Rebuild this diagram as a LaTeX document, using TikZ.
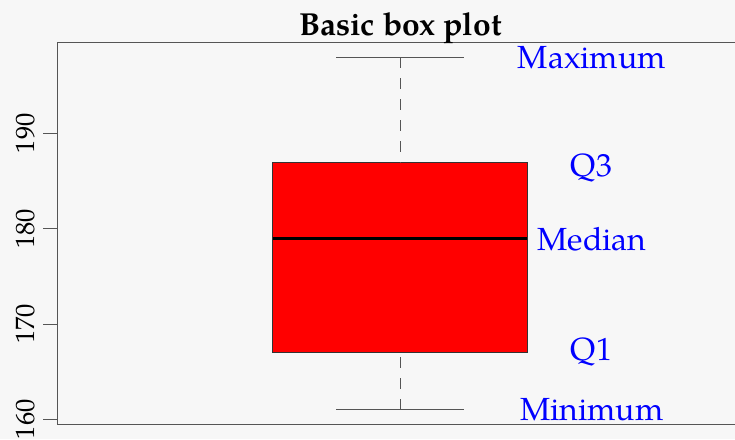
\documentclass[tikz,border=0pt]{standalone}
\usepackage{fontspec}
\setmainfont{TeX Gyre Pagella}
\definecolor{bg}{RGB}{247,247,247}
\definecolor{framegray}{RGB}{85,85,85}
\definecolor{lblue}{RGB}{0,0,255}
\definecolor{boxred}{RGB}{255,0,0}
\begin{document}
\begin{tikzpicture}[x=1pt,y=-1pt,
  framestyle/.style={draw=framegray,line width=1pt},
  tickstyle/.style={draw=framegray,line width=1pt},
  ticklabel/.style={rotate=90,anchor=base,inner sep=0pt,font=\fontsize{26.5}{26.5}\selectfont},
  lbl/.style={text=lblue,anchor=base west,inner sep=0pt,font=\fontsize{32}{32}\selectfont},
  whisk/.style={draw=framegray,line width=1pt},
  dashwhisk/.style={draw=framegray,line width=1pt,dash pattern=on 11pt off 10pt},
  boxstyle/.style={draw=black!80,line width=1pt,fill=boxred},
  medstyle/.style={draw=black,line width=3pt}]
\fill[bg] (0,0) rectangle (735,439);
\useasboundingbox (0,0) rectangle (735,439);
% frame
\draw[framestyle] (745,42.7) -- (57,42.7) -- (57,424) -- (745,424);
% ticks
\foreach \v/\y in {190/133.3,180/228.7,170/324,160/419.3}{
  \draw[tickstyle] (43.3,\y) -- (57,\y);
  \node[ticklabel] (t\v) at (34,\y) {\v};
}
% title
\node[anchor=base,inner sep=0pt,font=\fontsize{31.8}{31.8}\selectfont\bfseries] (title) at (400.5,35) {Basic box plot};
% coordinates
\coordinate (maxL) at (336.3,57.2);
\coordinate (maxR) at (463.7,57.2);
\coordinate (maxC) at (400,57.2);
\coordinate (minL) at (336.3,409.7);
\coordinate (minR) at (463.7,409.7);
\coordinate (minC) at (400,409.7);
\coordinate (q3) at (400,162.3);
\coordinate (q1) at (400,352.7);
\coordinate (medL) at (272.7,238.3);
\coordinate (medR) at (527.3,238.3);
% box
\draw[boxstyle] (272.7,162.3) rectangle (527.3,352.7);
\draw[medstyle] (medL) -- (medR);
% whiskers
\draw[dashwhisk] (maxC) -- (q3);
\draw[dashwhisk] (minC) -- (q1);
\draw[whisk] (maxL) -- (maxR);
\draw[whisk] (minL) -- (minR);
% labels
\node[lbl] (lmax) at (517.7,68.3) {Maximum};
\node[lbl] (lq3) at (570.7,176.7) {Q3};
\node[lbl] (lmed) at (537.3,250) {Median};
\node[lbl] (lq1) at (570.7,360) {Q1};
\node[lbl] (lmin) at (520,420) {Minimum};
\end{tikzpicture}
\end{document}
